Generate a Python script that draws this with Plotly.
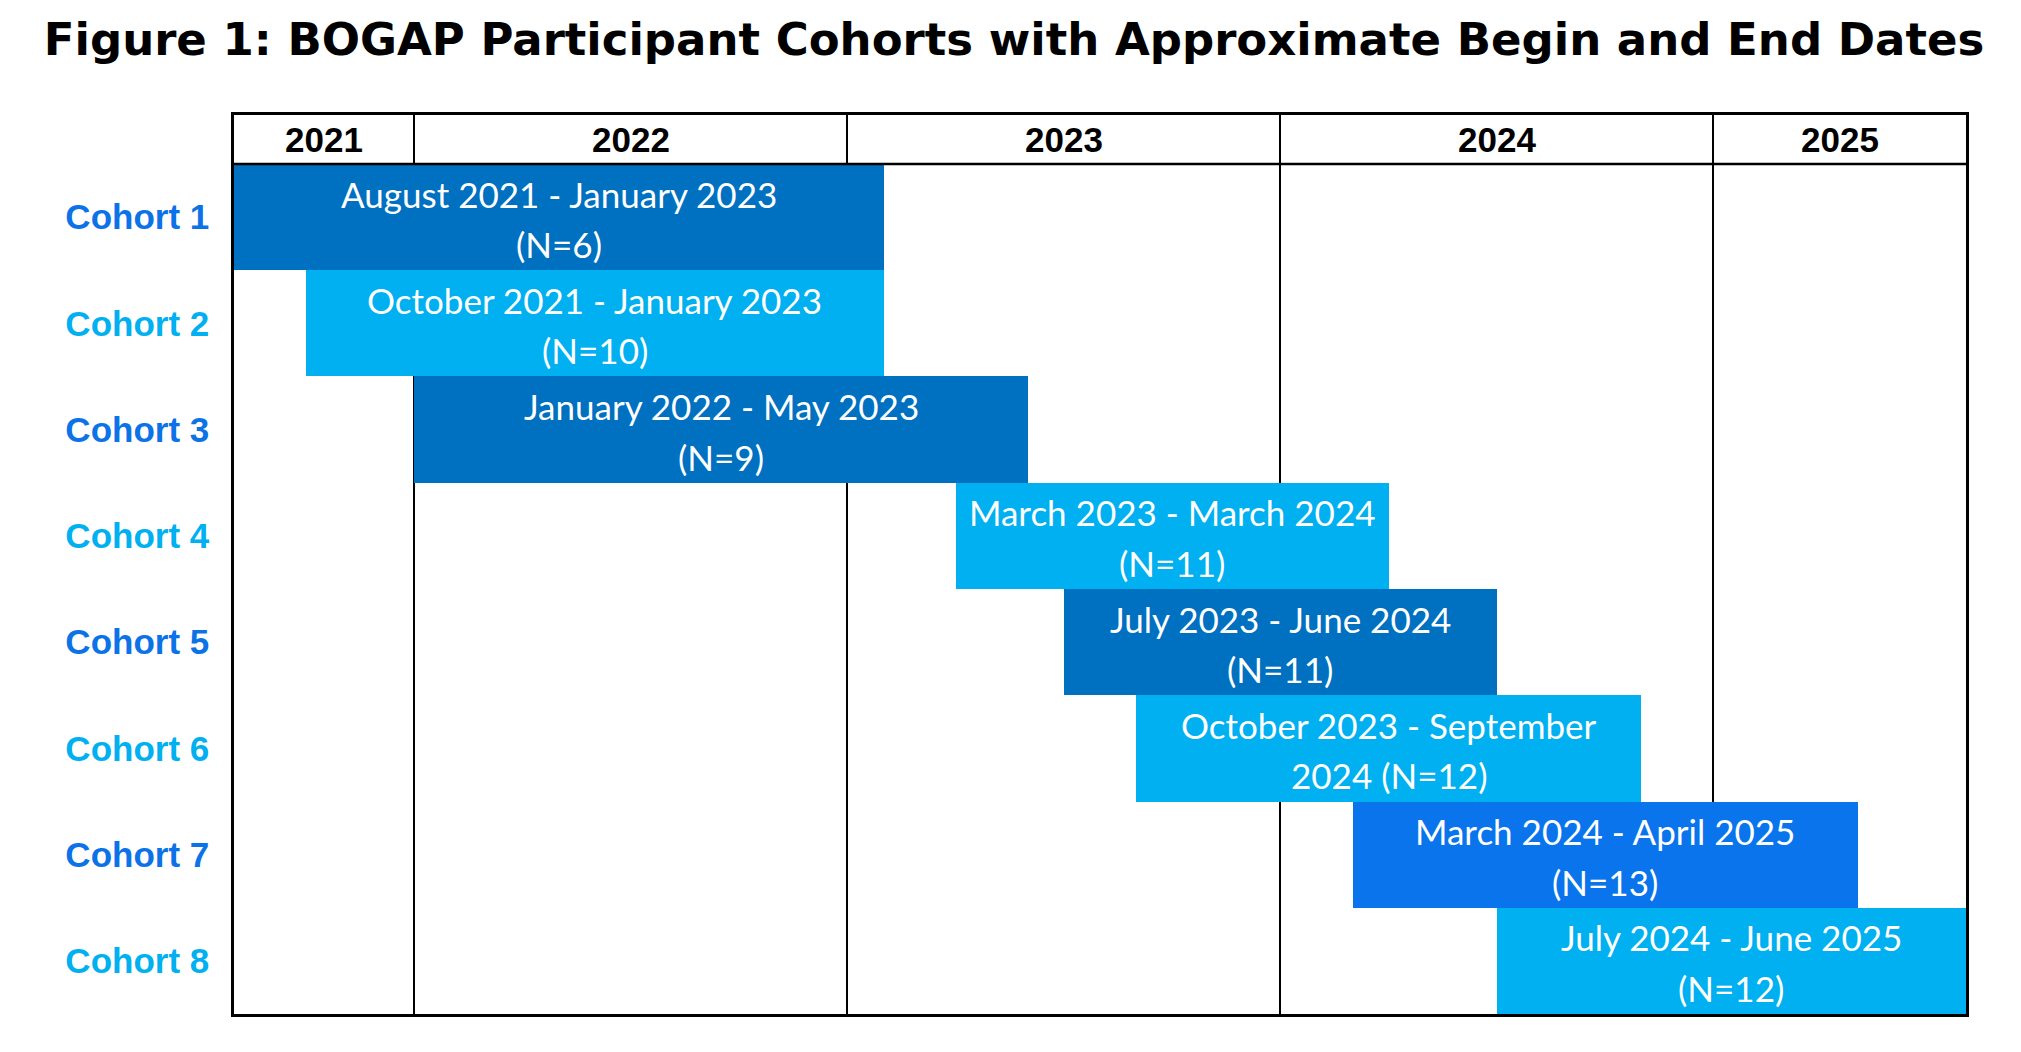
import plotly.graph_objects as go

# Cohort timeline data (months counted inclusive, as drawn in the figure)
cohorts = ["Cohort 1", "Cohort 2", "Cohort 3", "Cohort 4",
           "Cohort 5", "Cohort 6", "Cohort 7", "Cohort 8"]
first_month = ["2021-08", "2021-10", "2022-01", "2023-04",
               "2023-07", "2023-09", "2024-03", "2024-07"]
last_month = ["2023-01", "2023-01", "2023-05", "2024-03",
              "2024-06", "2024-10", "2025-04", "2025-07"]
periods = ["August 2021 - January 2023", "October 2021 - January 2023",
           "January 2022 - May 2023", "March 2023 - March 2024",
           "July 2023 - June 2024", "October 2023 - September 2024",
           "March 2024 - April 2025", "July 2024 - June 2025"]
n_participants = [6, 10, 9, 11, 11, 12, 13, 12]

years = [2021, 2022, 2023, 2024, 2025]
axis_start = "2021-08"
axis_end = "2025-07"

# styling
bar_colors = ["#0070C0", "#00B0F0", "#0070C0", "#00B0F0",
              "#0070C0", "#00B0F0", "#0974EC", "#00B0F0"]
label_colors = ["#0B72E8", "#00B0F0"]
HEADER_ROWS = 0.461          # header height, in row units
LINE1_DY, LINE2_DY = -0.221, 0.254  # text line offsets inside a bar, row units
BAR_FONT = dict(family="Lato", size=35, color="white")
HEAD_FONT = dict(family="Liberation Sans, Arial", size=35, color="black")


def month_index(ym):
    y, m = (int(v) for v in ym.split("-"))
    y0, m0 = (int(v) for v in axis_start.split("-"))
    return (y - y0) * 12 + (m - m0)


def bar_lines(period, n):
    # long periods wrap inside the period text, the rest put N on line 2
    if len(period) > 27:
        head, tail = period.rsplit(" ", 1)
        return head, f"{tail} (N={n})"
    return period, f"(N={n})"


starts = [month_index(m) for m in first_month]
ends = [month_index(m) + 1 for m in last_month]
x_max = month_index(axis_end) + 1
rows = list(range(1, len(cohorts) + 1))

# year spans on the month axis
year_starts = [max(month_index(f"{y}-01"), 0) for y in years]
year_ends = year_starts[1:] + [x_max]
year_mids = [(a + b) / 2 for a, b in zip(year_starts, year_ends)]

fig = go.Figure()

fig.add_trace(
    go.Bar(
        y=rows,
        x=[e - s for s, e in zip(starts, ends)],
        base=starts,
        orientation="h",
        width=1.0,
        marker=dict(color=bar_colors, line=dict(width=0)),
        hoverinfo="skip",
        showlegend=False,
    )
)

# two text lines per bar, centred on the bar
for row, s, e, p, n in zip(rows, starts, ends, periods, n_participants):
    line1, line2 = bar_lines(p, n)
    for txt, dy in ((line1, LINE1_DY), (line2, LINE2_DY)):
        fig.add_annotation(
            x=(s + e) / 2, y=row + dy, xref="x", yref="y",
            text=txt, showarrow=False, font=BAR_FONT,
            xanchor="center", yanchor="middle",
        )

tick_text = [
    f"<span style='color:{label_colors[i % 2]}'><b>{c}</b></span>"
    for i, c in enumerate(cohorts)
]

header_mid = (0.5 + (0.5 - HEADER_ROWS)) / 2
for y, xm in zip(years, year_mids):
    fig.add_annotation(
        x=xm, y=header_mid, xref="x", yref="y",
        text=f"<b>{y}</b>", showarrow=False, font=HEAD_FONT,
        xanchor="center", yanchor="middle",
    )

# line under the header row
fig.add_shape(
    type="line", xref="paper", yref="y",
    x0=0, x1=1, y0=0.5, y1=0.5,
    line=dict(color="black", width=2.5),
)

fig.update_layout(
    width=2021,
    height=1052,
    margin=dict(l=226, r=63, t=107, b=46),
    plot_bgcolor="white",
    paper_bgcolor="white",
    title=dict(
        text="<b>Figure 1: BOGAP Participant Cohorts with Approximate Begin and End Dates</b>",
        font=dict(family="DejaVu Sans", size=45, color="black"),
        x=0.4978, xanchor="center",
        y=0.970, yanchor="middle",
    ),
    xaxis=dict(
        range=[0, x_max],
        tickvals=year_starts[1:],
        showticklabels=False,
        ticks="",
        showgrid=True,
        gridcolor="black",
        gridwidth=2,
        zeroline=False,
        showline=True,
        mirror=True,
        linecolor="black",
        linewidth=2.5,
    ),
    yaxis=dict(
        range=[len(cohorts) + 0.5, 0.5 - HEADER_ROWS],
        tickvals=rows,
        ticktext=tick_text,
        ticks="",
        ticklabelstandoff=15,
        tickfont=dict(family="Liberation Sans, Arial", size=35),
        showgrid=False,
        zeroline=False,
        showline=True,
        mirror=True,
        linecolor="black",
        linewidth=2.5,
    ),
    bargap=0,
)

fig.write_html("out.html")
